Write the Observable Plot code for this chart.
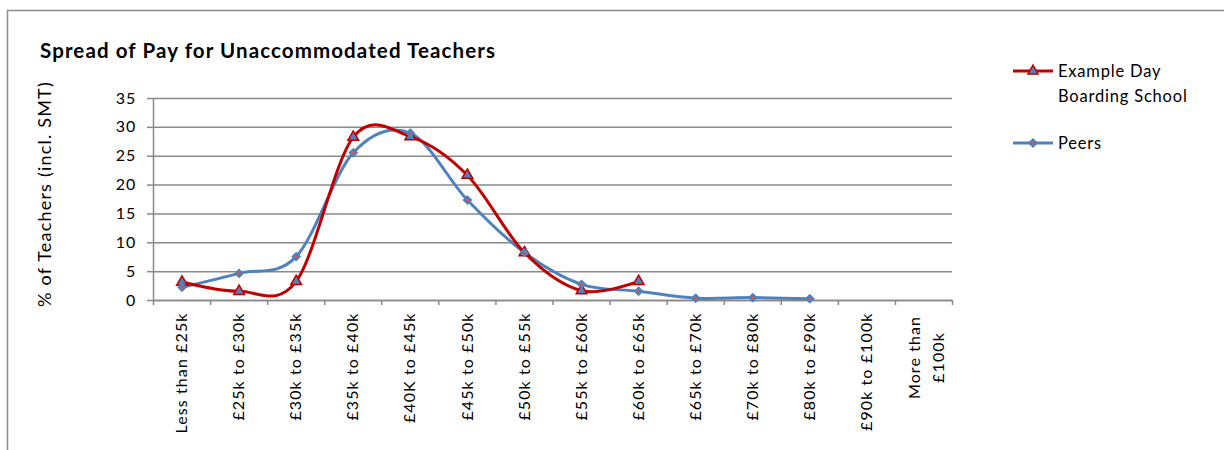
<!DOCTYPE html>
<html>
<head>
<meta charset="utf-8">
<script src="https://cdn.jsdelivr.net/npm/d3@7"></script>
<script src="https://cdn.jsdelivr.net/npm/@observablehq/plot@0.6"></script>
<style>
  html, body { margin: 0; padding: 0; background: #fff; }
  #chart { width: 1224px; height: 450px; overflow: hidden; }
</style>
</head>
<body>
<div id="chart"></div>
<script>
// ---- data ----
const categories = [
  "Less than £25k", "£25k to £30k", "£30k to £35k", "£35k to £40k", "£40K to £45k",
  "£45k to £50k", "£50k to £55k", "£55k to £60k", "£60k to £65k", "£65k to £70k",
  "£70k to £80k", "£80k to £90k", "£90k to £100k", "More than\n£100k"
];
const schoolName = "Example Day Boarding School";
const peersName = "Peers";
const schoolValues = [3.2, 1.6, 3.3, 28.3, 28.4, 21.7, 8.3, 1.7, 3.3];
const peerValues = [2.3, 4.7, 7.6, 25.6, 29.0, 17.4, 8.3, 2.8, 1.6, 0.4, 0.5, 0.3];
const yTicks = [0, 5, 10, 15, 20, 25, 30, 35];
const title = "Spread of Pay for Unaccommodated Teachers";
const yLabel = "% of Teachers (incl. SMT)";

const RED = "#C00000";
const BLUE = "#4F81BD";
const GRID = "#898989";
const FONT = "Lato, 'Open Sans', sans-serif";

const toRows = (name, values) => values.map((v, i) => ({series: name, pos: i + 0.5, value: v}));
const schoolRows = toRows(schoolName, schoolValues);
const peerRows = toRows(peersName, peerValues);
const boundaries = d3.range(categories.length + 1);
const centers = categories.map((c, i) => i + 0.5);
const lastCenter = centers.slice(-1);
const smooth = d3.curveCatmullRom.alpha(0);

const chart = Plot.plot({
  width: 1224,
  height: 450,
  marginLeft: 153,
  marginRight: 272,
  marginTop: 98,
  marginBottom: 150,
  style: {fontFamily: FONT, fontSize: "16px", color: "#000", background: "#fff", overflow: "visible", letterSpacing: "1.1px"},
  x: {domain: [0, categories.length], axis: null},
  y: {domain: [0, 35], axis: null},
  marks: [
    Plot.gridY(yTicks, {stroke: GRID, strokeOpacity: 1, strokeWidth: 1.5}),
    Plot.axisY({ticks: yTicks, tickSize: 6, tickPadding: 11, stroke: GRID, strokeWidth: 1.5, fontSize: 16, label: null}),
    Plot.ruleX([0], {stroke: GRID, strokeWidth: 1.5}),
    Plot.ruleY([0], {stroke: GRID, strokeWidth: 1.5}),
    Plot.axisX({ticks: boundaries, tickSize: 5, tickFormat: () => "", stroke: GRID, strokeWidth: 1.5, label: null}),
    Plot.axisX({ticks: centers.slice(0, -1), tickSize: 0, tickPadding: 12, tickRotate: -90, textAnchor: "end",
      tickFormat: d => categories[Math.floor(d)], fontSize: 16, label: null}),
    Plot.axisX({ticks: lastCenter, tickSize: 0, tickPadding: 57, tickRotate: -90, textAnchor: "middle",
      tickFormat: d => categories[Math.floor(d)], fontSize: 16, lineHeight: 1.5, label: null}),
    Plot.line(peerRows, {x: "pos", y: "value", stroke: BLUE, strokeWidth: 3, curve: smooth}),
    Plot.line(schoolRows, {x: "pos", y: "value", stroke: RED, strokeWidth: 3, curve: smooth}),
    Plot.dot(schoolRows, {x: "pos", y: "value", symbol: "triangle", r: 4, fill: BLUE, stroke: RED, strokeWidth: 1.5}),
    Plot.dot(peerRows, {x: "pos", y: "value", symbol: "diamond2", r: 4, fill: BLUE, stroke: BLUE, strokeWidth: 1}),
    Plot.dot(peerRows, {x: "pos", y: "value", r: 1.6, fill: "#D9534F"})
  ]
});

document.getElementById("chart").appendChild(chart);

// ---- decorations: border, title, y label, legend ----
const svg = d3.select(chart);
svg.insert("rect", ":first-child")
  .attr("x", 7.5).attr("y", 10.5).attr("width", 1300).attr("height", 500)
  .attr("fill", "none").attr("stroke", "#8c8c8c").attr("stroke-width", 1.5);

svg.append("text")
  .attr("x", 40).attr("y", 58)
  .attr("text-anchor", "start")
  .attr("font-family", FONT).attr("font-weight", "bold").attr("font-size", 20.5)
  .attr("letter-spacing", "1.1px")
  .attr("fill", "#000")
  .text(title);

svg.append("text")
  .attr("transform", "translate(51,194) rotate(-90)")
  .attr("text-anchor", "middle")
  .attr("font-family", FONT).attr("font-size", 18)
  .attr("letter-spacing", "1.2px")
  .attr("fill", "#000")
  .text(yLabel);

const legend = svg.append("g").attr("font-family", FONT).attr("font-size", 16.5)
  .attr("text-anchor", "start").attr("letter-spacing", "0.8px").attr("fill", "#000");
const legendItems = [
  {lines: ["Example Day", "Boarding School"], color: RED, y: 71, symbol: d3.symbolTriangle, fill: BLUE},
  {lines: [peersName], color: BLUE, y: 143, symbol: d3.symbolSquare, fill: BLUE}
];
legendItems.forEach(it => {
  legend.append("line").attr("x1", 1013).attr("x2", 1053).attr("y1", it.y).attr("y2", it.y)
    .attr("stroke", it.color).attr("stroke-width", 3);
  const isTri = it.symbol === d3.symbolTriangle;
  legend.append("path")
    .attr("d", d3.symbol(it.symbol, isTri ? 45 : 32)())
    .attr("fill", it.fill).attr("stroke", it.color).attr("stroke-width", 1.5)
    .attr("transform", isTri ? `translate(1033,${it.y})` : `translate(1033,${it.y}) rotate(45)`);
  if (!isTri) {
    legend.append("circle").attr("cx", 1033).attr("cy", it.y).attr("r", 1.6).attr("fill", "#D9534F");
  }
  it.lines.forEach((ln, j) => {
    legend.append("text").attr("x", 1058).attr("y", it.y + 6 + j * 25).text(ln);
  });
});
</script>
</body>
</html>
